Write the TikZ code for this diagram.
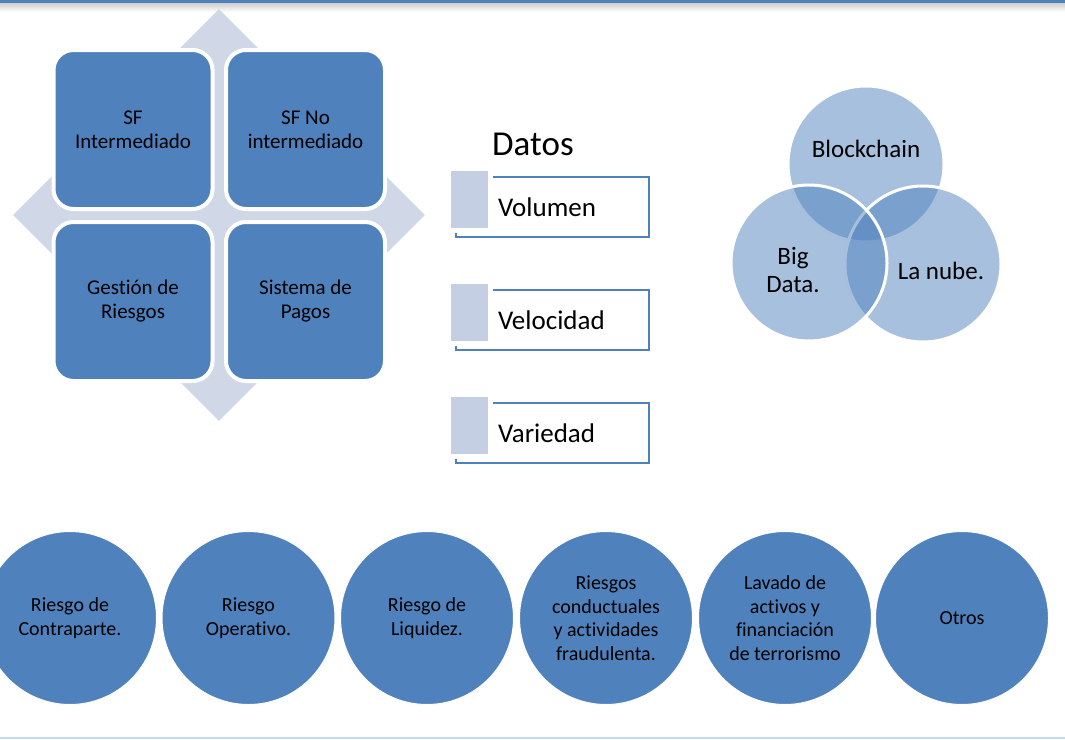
\documentclass[tikz,border=0pt]{standalone}
\usepackage{fontspec}
\setmainfont{Carlito}[Ligatures=NoCommon]
\usetikzlibrary{shapes.geometric}
\definecolor{fbmain}{HTML}{4F81BD}
\definecolor{fbcross}{HTML}{D0D8E8}
\definecolor{fbtag}{HTML}{C5CFE3}
\definecolor{fbline}{HTML}{C6D9F1}
\begin{document}
\begin{tikzpicture}[x=1pt, y=-1pt,
            quad/.style={rectangle, rounded corners=20pt, fill=fbmain, draw=white, line width=4pt, minimum size=159pt, align=center, font=\fontsize{21}{24}\selectfont},
            tag/.style={rectangle, fill=fbtag, draw=white, line width=5pt, minimum width=42pt, minimum height=62pt, inner sep=0pt},
            item/.style={rectangle, draw=fbmain, line width=1.5pt, minimum width=193pt, minimum height=60pt, text width=109pt, inner xsep=42pt, inner ysep=0pt, align=left, font=\fontsize{27}{30}\selectfont},
            venn/.style={circle, fill=fbmain, fill opacity=0.5, text opacity=1, draw=white, line width=3pt, minimum size=156pt, align=center, font=\fontsize{25}{30}\selectfont},
            risk/.style={circle, fill=fbmain, draw=white, line width=1pt, minimum size=173pt, inner sep=0pt, align=center, font=\fontsize{20}{23.5}\selectfont}
        ]
            \useasboundingbox (0,0) rectangle (1065,739);

            % Frame
            \fill[fbmain] (0,0) rectangle (1065,3.5);
            \shade[top color=black!18, bottom color=white] (0,3.5) rectangle (1065,12);
            \fill[fbline] (0,736.5) rectangle (1065,739);

            % Cross and quadrants
            \node[diamond, fill=fbcross, minimum width=412pt, minimum height=412pt, inner sep=0pt] (cross) at (219,215) {};
            \node[quad] (sfi) at (133,129.5) {SF\\Intermediado};
            \node[quad] (sfn) at (305.5,129.5) {SF No\\intermediado};
            \node[quad] (gest) at (133,301.5) {Gestión de\\Riesgos};
            \node[quad] (pagos) at (305.5,301.5) {Sistema de\\Pagos};

            % Datos
            \node[anchor=base west, inner sep=0pt, font=\fontsize{35}{40}\selectfont] (datos) at (492,155) {Datos};
            \node[item] (vol) at (552.5,207) {Volumen};
            \node[tag] (tvol) at (469.5,199.5) {};
            \node[item] (vel) at (552.5,320) {Velocidad};
            \node[tag] (tvel) at (469.5,312.5) {};
            \node[item] (var) at (552.5,433) {Variedad};
            \node[tag] (tvar) at (469.5,425.5) {};

            % Venn
            \node[venn] (block) at (866,164) {};
            \node[venn] (nube) at (923,264) {};
            \node[venn] (big) at (809,263) {};
            \node[font=\fontsize{25}{30}\selectfont] at (866,149) {Blockchain};
            \node[align=center, font=\fontsize{25}{28}\selectfont] at (793,270) {Big\\Data.};
            \node[font=\fontsize{25}{30}\selectfont] at (941,271) {La nube.};

            % Riesgos
            \node[risk] (r1) at (70,618) {Riesgo de\\Contraparte.};
            \node[risk] (r2) at (248.5,618) {Riesgo\\Operativo.};
            \node[risk] (r3) at (427,618) {Riesgo de\\Liquidez.};
            \node[risk] (r4) at (606,618) {Riesgos\\conductuales\\y actividades\\fraudulenta.};
            \node[risk] (r5) at (785,618) {Lavado de\\activos y\\financiación\\de terrorismo};
            \node[risk] (r6) at (962,618) {Otros};
        \end{tikzpicture}
\end{document}
